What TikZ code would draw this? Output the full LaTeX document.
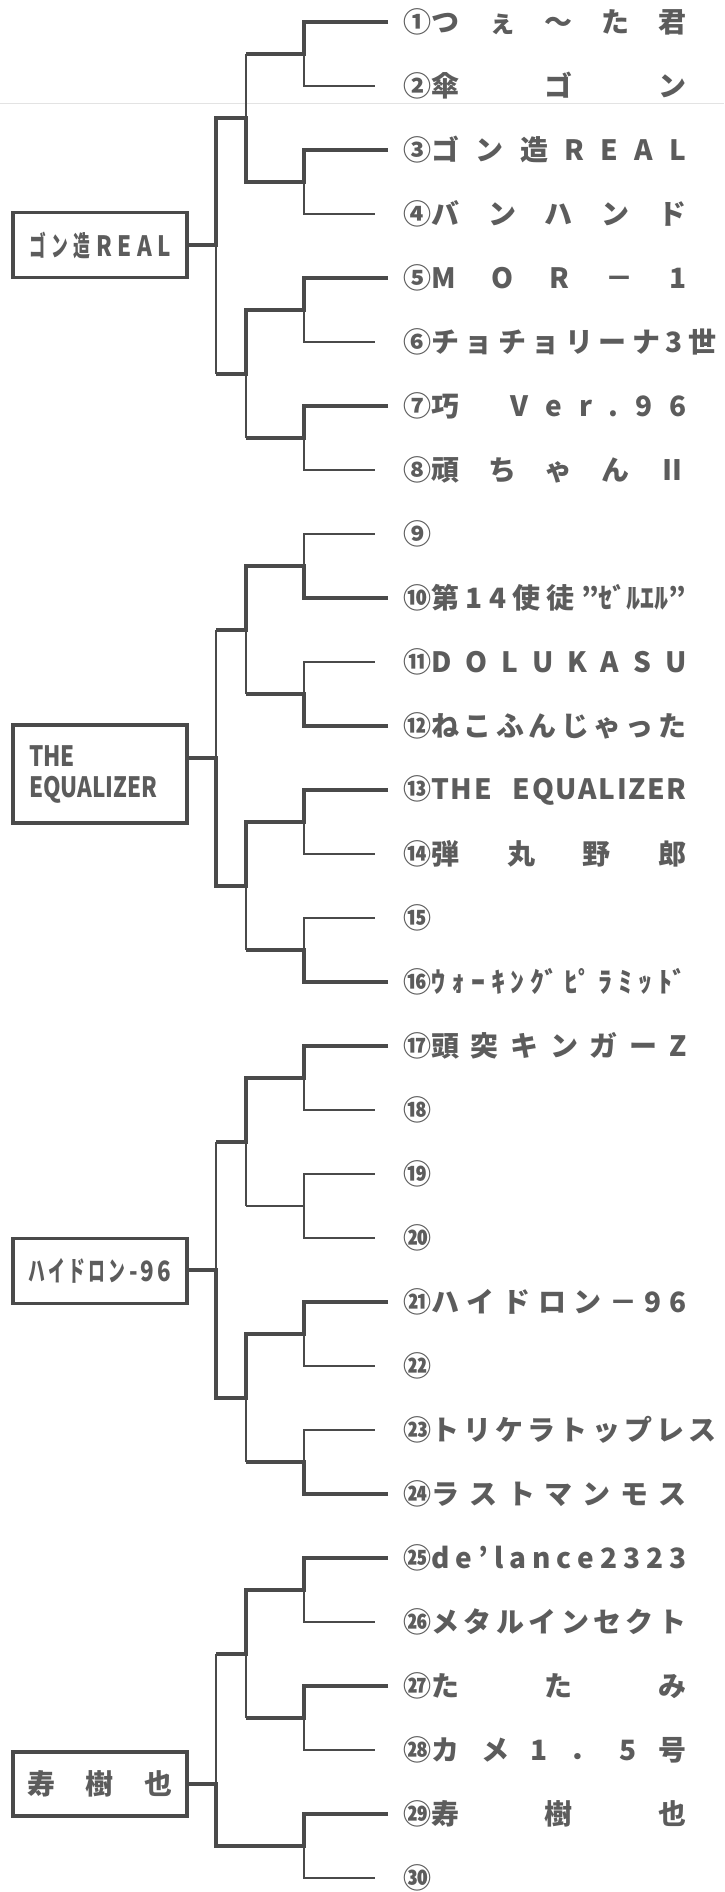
\documentclass[tikz,border=0pt]{standalone}
\usepackage{fontspec}
\usepackage{graphicx}
\setmainfont{Noto Sans CJK JP}
\usetikzlibrary{positioning,calc}
\definecolor{inkgray}{HTML}{5C5C5C}
\definecolor{linegray}{HTML}{4A4A4A}
\newcommand{\sq}[2][0.6]{\scalebox{#1}[1]{#2}}
\newcommand{\nm}[1]{\makebox[127.5pt][s]{#1}}
\newcommand{\nmw}[1]{\makebox[142.5pt][s]{#1}}
\newcommand{\gap}{\hbox to 9pt{}}
\tikzset{
  win/.style={line width=1.6pt, draw=linegray},
  lose/.style={line width=0.6pt, draw=linegray},
  entry/.style={anchor=west, inner sep=0pt, text=inkgray, font=\fontsize{14pt}{16pt}\selectfont\bfseries},
  seed/.style={rectangle, draw=linegray, line width=1.6pt, minimum width=87pt, inner sep=0pt,
               text=inkgray, align=left, font=\fontsize{14pt}{15.5pt}\selectfont\bfseries},
  scanline/.style={line width=0.5pt, draw=gray!22},
}

\begin{document}
\begin{tikzpicture}[x=0.5pt, y=-0.5pt]
\useasboundingbox (0,0) rectangle (724,1892);
\draw[scanline] (0,103) -- (724,103);
% entries
\node[entry] (e1) at (403,22) {①\nm{つ\hfill ぇ\hfill 〜\hfill た\hfill 君}};
\node[entry] (e2) at (403,86) {②\nm{傘\hfill ゴ\hfill ン}};
\node[entry] (e3) at (403,150) {③\nm{ゴ\hfill ン\hfill 造\hfill R\hfill E\hfill A\hfill L}};
\node[entry] (e4) at (403,214) {④\nm{バ\hfill ン\hfill ハ\hfill ン\hfill ド}};
\node[entry] (e5) at (403,278) {⑤\nm{M\hfill O\hfill R\hfill －\hfill 1}};
\node[entry] (e6) at (403,342) {⑥\nmw{チ\hfill ョ\hfill チ\hfill ョ\hfill リ\hfill ー\hfill ナ\hfill 3\hfill 世}};
\node[entry] (e7) at (403,406) {⑦\nm{巧\hfill\gap\hfill V\hfill e\hfill r\hfill .\hfill 9\hfill 6}};
\node[entry] (e8) at (403,470) {⑧\nm{頑\hfill ち\hfill ゃ\hfill ん\hfill Ⅱ}};
\node[entry] (e9) at (403,534) {⑨};
\node[entry] (e10) at (403,598) {⑩\nm{第\hfill 1\hfill 4\hfill 使\hfill 徒\hfill "ｾﾞﾙｴﾙ"}};
\node[entry] (e11) at (403,662) {⑪\nm{D\hfill O\hfill L\hfill U\hfill K\hfill A\hfill S\hfill U}};
\node[entry] (e12) at (403,726) {⑫\nm{ね\hfill こ\hfill ふ\hfill ん\hfill じ\hfill ゃ\hfill っ\hfill た}};
\node[entry] (e13) at (403,790) {⑬\nm{T\hfill H\hfill E\hfill\gap\hfill E\hfill Q\hfill U\hfill A\hfill L\hfill I\hfill Z\hfill E\hfill R}};
\node[entry] (e14) at (403,854) {⑭\nm{弾\hfill 丸\hfill 野\hfill 郎}};
\node[entry] (e15) at (403,918) {⑮};
\node[entry] (e16) at (403,982) {⑯\nm{ｳ\hfill ｫ\hfill ｰ\hfill ｷ\hfill ﾝ\hfill ｸﾞ\hfill ﾋﾟ\hfill ﾗ\hfill ﾐ\hfill ｯ\hfill ﾄﾞ}};
\node[entry] (e17) at (403,1046) {⑰\nm{頭\hfill 突\hfill キ\hfill ン\hfill ガ\hfill ー\hfill Z}};
\node[entry] (e18) at (403,1110) {⑱};
\node[entry] (e19) at (403,1174) {⑲};
\node[entry] (e20) at (403,1238) {⑳};
\node[entry] (e21) at (403,1302) {㉑\nm{ハ\hfill イ\hfill ド\hfill ロ\hfill ン\hfill －\hfill 9\hfill 6}};
\node[entry] (e22) at (403,1366) {㉒};
\node[entry] (e23) at (403,1430) {㉓\nmw{ト\hfill リ\hfill ケ\hfill ラ\hfill ト\hfill ッ\hfill プ\hfill レ\hfill ス}};
\node[entry] (e24) at (403,1494) {㉔\nm{ラ\hfill ス\hfill ト\hfill マ\hfill ン\hfill モ\hfill ス}};
\node[entry] (e25) at (403,1558) {㉕\nm{d\hfill e\hfill '\hfill l\hfill a\hfill n\hfill c\hfill e\hfill 2\hfill 3\hfill 2\hfill 3}};
\node[entry] (e26) at (403,1622) {㉖\nm{メ\hfill タ\hfill ル\hfill イ\hfill ン\hfill セ\hfill ク\hfill ト}};
\node[entry] (e27) at (403,1686) {㉗\nm{た\hfill た\hfill み}};
\node[entry] (e28) at (403,1750) {㉘\nm{カ\hfill メ\hfill 1\hfill ．\hfill 5\hfill 号}};
\node[entry] (e29) at (403,1814) {㉙\nm{寿\hfill 樹\hfill 也}};
\node[entry] (e30) at (403,1878) {㉚};
% seeds
\node[seed, minimum height=32.5pt] (b1) at (100,245) {\makebox[71pt][s]{\sq{ゴ}\hfill\sq{ン}\hfill\sq{造}\hfill\sq[.8]{R}\hfill\sq[.8]{E}\hfill\sq[.8]{A}\hfill\sq[.8]{L}}};
\node[seed, minimum height=49pt, text width=71pt] (b2) at (100,774) {\sq[.8]{THE}\\\sq[.8]{EQUALIZER}};
\node[seed, minimum height=32.5pt] (b3) at (100,1271) {\makebox[71.5pt][s]{\sq{ハ}\hfill\sq{イ}\hfill\sq{ド}\hfill\sq{ロ}\hfill\sq{ン}\hfill\sq[.8]{-}\hfill\sq[.8]{9}\hfill\sq[.8]{6}}};
\node[seed, minimum height=32pt] (b4) at (100,1784) {\makebox[72.5pt][s]{寿\hfill 樹\hfill 也}};
% match points
\coordinate (m1) at (304,54);   \coordinate (m2) at (304,182);
\coordinate (m3) at (304,310);  \coordinate (m4) at (304,438);
\coordinate (m5) at (304,566);  \coordinate (m6) at (304,694);
\coordinate (m7) at (304,822);  \coordinate (m8) at (304,950);
\coordinate (m9) at (304,1078); \coordinate (m10) at (304,1206);
\coordinate (m11) at (304,1334); \coordinate (m12) at (304,1462);
\coordinate (m13) at (304,1590); \coordinate (m14) at (304,1718);
\coordinate (m15) at (304,1846);
\coordinate (q1) at (246,118);  \coordinate (q2) at (246,374);
\coordinate (q3) at (246,630);  \coordinate (q4) at (246,886);
\coordinate (q5) at (246,1142); \coordinate (q6) at (246,1398);
\coordinate (q7) at (246,1654);
\coordinate (r1) at (216,245);  \coordinate (r2) at (216,758);
\coordinate (r3) at (216,1270); \coordinate (r4) at (216,1784);
% block 1
\draw[win] ([xshift=-7.5pt]e3.west) -| (m2) -| (q1) -| (r1) -- (b1.east);
\draw[win] ([xshift=-7.5pt]e1.west) -| (m1) -- (m1 -| q1);
\draw[win] ([xshift=-7.5pt]e5.west) -| (m3) -| (q2) -- (q2 -| r1);
\draw[win] ([xshift=-7.5pt]e7.west) -| (m4) -- (m4 -| q2);
\draw[lose] (m1) |- ([xshift=-14pt]e2.west);
\draw[lose] (m2) |- ([xshift=-14pt]e4.west);
\draw[lose] (m3) |- ([xshift=-14pt]e6.west);
\draw[lose] (m4) |- ([xshift=-14pt]e8.west);
\draw[lose] (q1) -- (q1 |- m1);
\draw[lose] (q2) -- (q2 |- m4);
\draw[lose] (r1) -- (r1 |- q2);
% block 2
\draw[win] ([xshift=-7.5pt]e13.west) -| (m7) -| (q4) -| (r2) -- (b2.east |- r2);
\draw[win] ([xshift=-7.5pt]e10.west) -| (m5) -| (q3) -- (q3 -| r2);
\draw[win] ([xshift=-7.5pt]e12.west) -| (m6) -- (m6 -| q3);
\draw[win] ([xshift=-7.5pt]e16.west) -| (m8) -- (m8 -| q4);
\draw[lose] (m5) |- ([xshift=-14pt]e9.west);
\draw[lose] (m6) |- ([xshift=-14pt]e11.west);
\draw[lose] (m7) |- ([xshift=-14pt]e14.west);
\draw[lose] (m8) |- ([xshift=-14pt]e15.west);
\draw[lose] (q3) -- (q3 |- m6);
\draw[lose] (q4) -- (q4 |- m8);
\draw[lose] (r2) -- (r2 |- q3);
% block 3
\draw[win] ([xshift=-7.5pt]e21.west) -| (m11) -| (q6) -| (r3) -- (b3.east |- r3);
\draw[win] ([xshift=-7.5pt]e17.west) -| (m9) -| (q5) -- (q5 -| r3);
\draw[win] ([xshift=-7.5pt]e24.west) -| (m12) -- (m12 -| q6);
\draw[lose] (m9) |- ([xshift=-14pt]e18.west);
\draw[lose] (m10) |- ([xshift=-14pt]e19.west);
\draw[lose] (m10) |- ([xshift=-14pt]e20.west);
\draw[lose] (m10) -- (m10 -| q5);
\draw[lose] (m11) |- ([xshift=-14pt]e22.west);
\draw[lose] (m12) |- ([xshift=-14pt]e23.west);
\draw[lose] (q5) -- (q5 |- m10);
\draw[lose] (q6) -- (q6 |- m12);
\draw[lose] (r3) -- (r3 |- q5);
% block 4
\draw[win] ([xshift=-7.5pt]e29.west) -| (m15) -| (r4) -- (b4.east);
\draw[win] ([xshift=-7.5pt]e25.west) -| (m13) -| (q7) -- (q7 -| r4);
\draw[win] ([xshift=-7.5pt]e27.west) -| (m14) -- (m14 -| q7);
\draw[lose] (m13) |- ([xshift=-14pt]e26.west);
\draw[lose] (m14) |- ([xshift=-14pt]e28.west);
\draw[lose] (m15) |- ([xshift=-14pt]e30.west);
\draw[lose] (q7) -- (q7 |- m14);
\draw[lose] (r4) -- (r4 |- q7);
\end{tikzpicture}
\end{document}
